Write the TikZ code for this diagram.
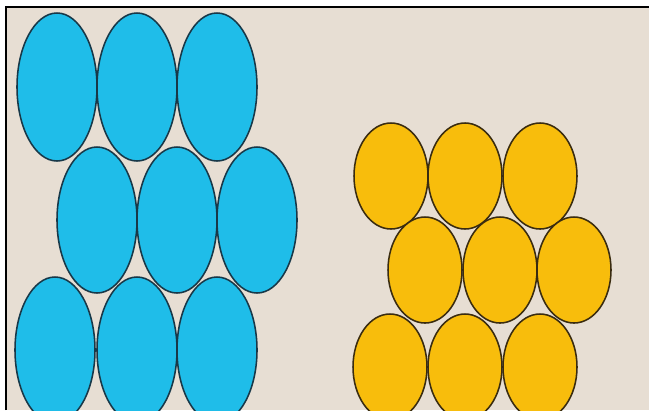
\documentclass[tikz,border=0pt]{standalone}
\usepackage{tikz}
\definecolor{paperbg}{HTML}{E7DED3}
\definecolor{ballblue}{HTML}{1FBDE9}
\definecolor{ballgold}{HTML}{F8BD0C}
\definecolor{rimblue}{HTML}{183848}
\definecolor{rimgold}{HTML}{3A2C10}

\begin{document}
\begin{tikzpicture}[x=0.025cm, y=-0.025cm,
    blueball/.style={fill=ballblue, draw=rimblue, line width=1.1pt},
    goldball/.style={fill=ballgold, draw=rimgold, line width=1.1pt}]
                \useasboundingbox (0,0) rectangle (649,410);
                \fill[white] (0,0) rectangle (649,410);
                \fill[paperbg] (6,7) rectangle (649,410);
                \begin{scope}
                \clip (6,7) rectangle (649,410);
                % blue layer
                \foreach \x in {57,137,217} \draw[blueball] (\x,87) ellipse (40 and 74);
                \foreach \x in {97,177,257} \draw[blueball] (\x,220) ellipse (40 and 73);
                \foreach \x in {55,137,217} \draw[blueball] (\x,350) ellipse (40 and 73);
                % gold layer
                \foreach \x in {391,465,540} \draw[goldball] (\x,176) ellipse (37 and 53);
                \foreach \x in {425,500,574} \draw[goldball] (\x,270) ellipse (37 and 53);
                \foreach \x in {390,465,540} \draw[goldball] (\x,367) ellipse (37 and 53);
                \end{scope}
                \draw[line width=1.8pt] (6,410) -- (6,7) -- (649,7);
            \end{tikzpicture}
\end{document}
